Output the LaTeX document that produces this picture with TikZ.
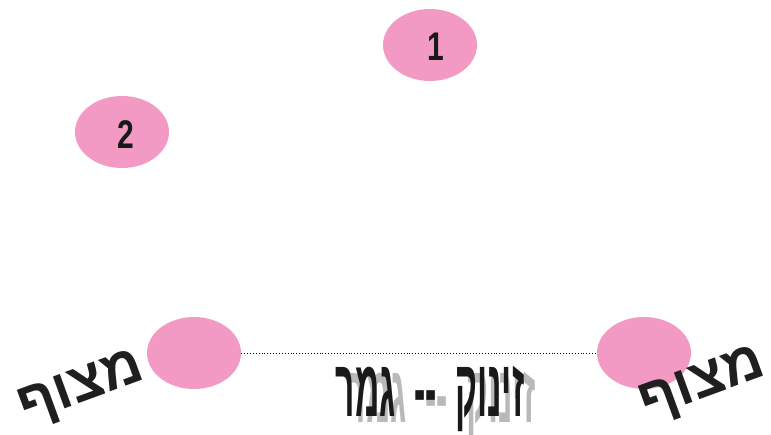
\documentclass[tikz,border=0pt]{standalone}
\usepackage{fontspec}
\setmainfont{Liberation Sans}
\newfontfamily\hebfont[Script=Hebrew]{Liberation Sans}
\TeXXeTstate=1
\definecolor{pinkfill}{RGB}{243,154,196}
\definecolor{shadowgrey}{RGB}{185,185,185}
\tikzset{
  blob/.style={ellipse, fill=pinkfill, minimum width=94pt, minimum height=72pt, inner sep=0pt},
  numtxt/.style={font=\fontsize{40}{40}\selectfont\bfseries, text=black!90, xscale=0.75},
  floattxt/.style={font=\hebfont\fontsize{56}{56}\selectfont\bfseries, text=black!88, rotate=20, inner sep=0pt},
  titletxt/.style={font=\hebfont\fontsize{60}{60}\selectfont\bfseries, xscale=0.56, yscale=1.35, inner sep=0pt},
}
\usetikzlibrary{shapes.geometric}
\begin{document}
\begin{tikzpicture}[x=1pt,y=1pt]
\useasboundingbox (0,0) rectangle (771,434);
\node[blob] (n1) at (430,389) {};
\node[numtxt] at (436,387) {1};
\node[blob] (n2) at (122,302) {};
\node[numtxt] at (126,299) {2};
\node[blob] (sl) at (194,81) {};
\node[blob] (sr) at (644,81) {};
\draw[dotted, line width=0.9pt] (sl.east) -- (sr.west);
\node[floattxt] (fl) at (82,44) {\beginR מצוף\endR};
\node[floattxt] (fr) at (703,48) {\beginR מצוף\endR};
\node[titletxt, text=shadowgrey] (ts) at (441,29) {\beginR זינוק\ \ --\ \ גמר\endR};
\node[titletxt, text=black!90] (t) at (430,35) {\beginR זינוק\ \ --\ \ גמר\endR};
\end{tikzpicture}
\end{document}
